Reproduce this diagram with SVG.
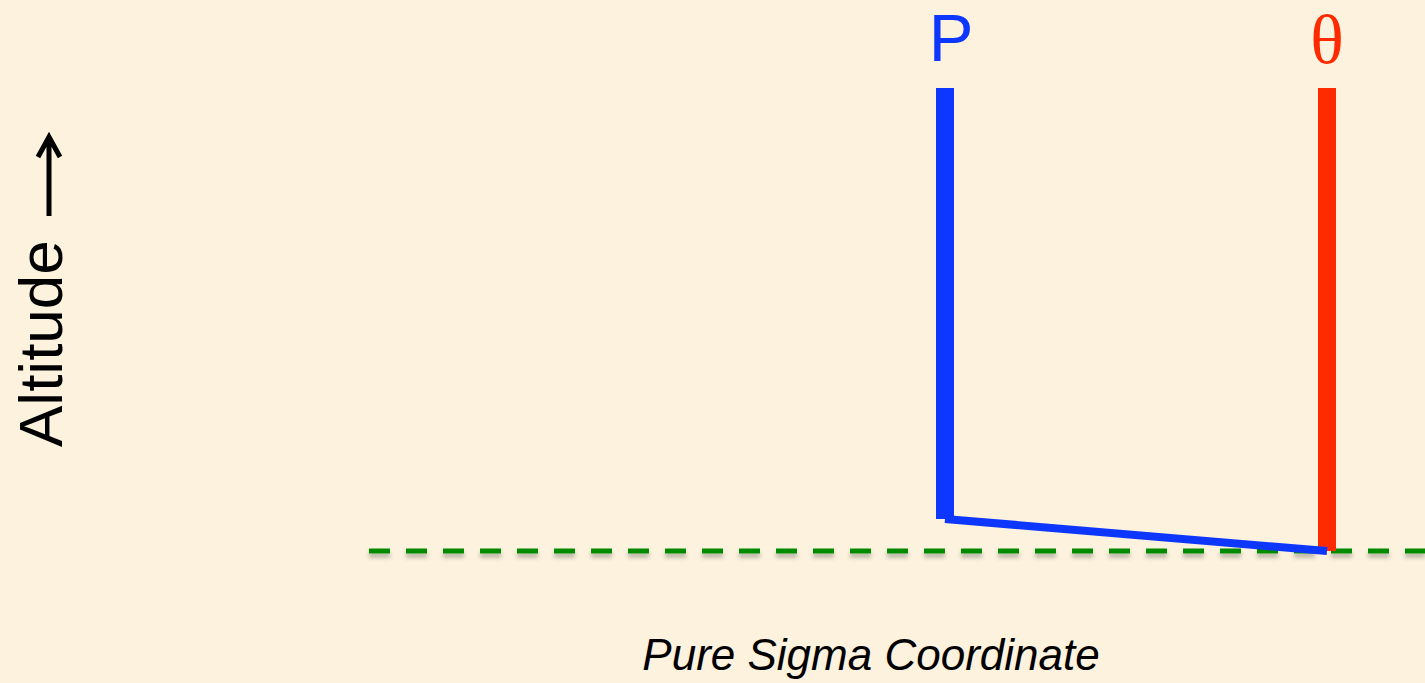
<svg xmlns="http://www.w3.org/2000/svg" width="1425" height="683" viewBox="0 0 1425 683">
<defs>
<filter id="shadow" filterUnits="userSpaceOnUse" x="350" y="530" width="1100" height="40">
<feDropShadow dx="0" dy="4" stdDeviation="2" flood-color="#000" flood-opacity="0.28"/>
</filter>
<style>
.lbl{font-family:"Liberation Sans",Arial,sans-serif}
</style>
</defs>
<rect width="1425" height="683" fill="#FCF2DE"/>
<g id="ground">
<line x1="369" y1="551" x2="1425" y2="551" stroke="#008A00" stroke-width="5" stroke-dasharray="21 16" filter="url(#shadow)"/>
</g>
<g id="theta">
<rect x="1318" y="88" width="18" height="463" fill="#FF2A00"/>
<text x="1327" y="63" font-size="70" fill="#FF2A00" text-anchor="middle" style="font-family:'Liberation Serif',serif">θ</text>
</g>
<g id="pressure">
<rect x="936" y="88" width="18" height="431" fill="#0D36FF"/>
<line x1="945" y1="519" x2="1327" y2="551" stroke="#0D36FF" stroke-width="8"/>
<text class="lbl" x="951" y="61" font-size="67" fill="#0D36FF" text-anchor="middle">P</text>
</g>
<g id="altitude">
<text class="lbl" transform="translate(62,447) rotate(-90)" font-size="62" fill="#000">Altitude</text>
<path d="M49,216 V139 M38,157 L49,137 L60,157" fill="none" stroke="#000" stroke-width="5" stroke-linejoin="miter"/>
</g>
<g id="caption">
<text class="lbl" x="871" y="670" font-size="44" font-style="italic" fill="#000" text-anchor="middle">Pure Sigma Coordinate</text>
</g>
</svg>
